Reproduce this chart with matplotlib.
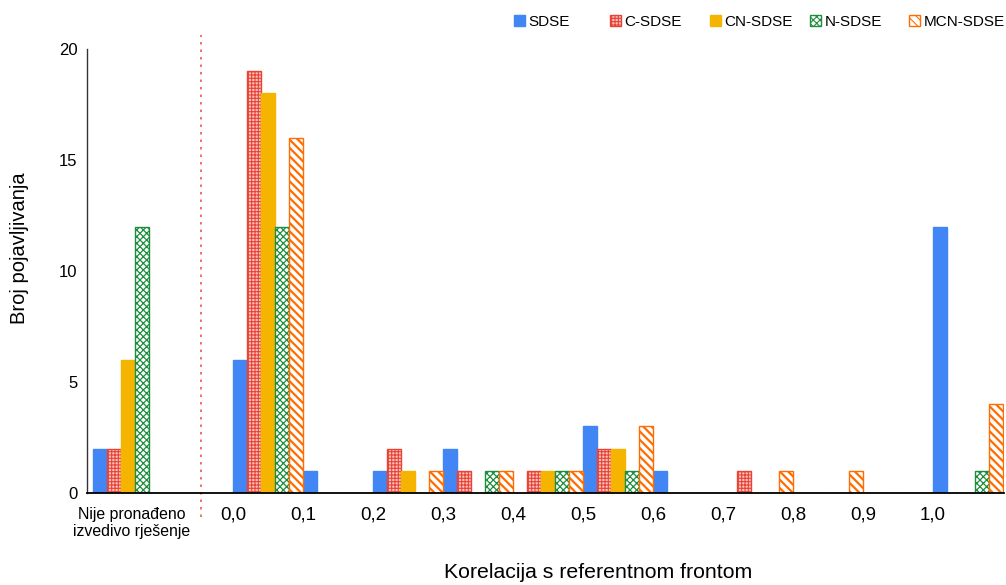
import numpy as np
import matplotlib
matplotlib.use("Agg")
import matplotlib.pyplot as plt

plt.rcParams['font.family'] = ['Liberation Sans', 'DejaVu Sans']
plt.rcParams['hatch.linewidth'] = 0.8

# ---- data ----
series = ["SDSE", "C-SDSE", "CN-SDSE", "N-SDSE", "MCN-SDSE"]
bin_labels = ["0,0", "0,1", "0,2", "0,3", "0,4", "0,5", "0,6", "0,7", "0,8", "0,9", "1,0"]
nf_label = "Nije pronađeno\nizvedivo rješenje"

# first value = "Nije pronađeno izvedivo rješenje", then bins 0,0 .. 1,0
sdse     = [2, 6, 1, 1, 2, 0, 3, 1, 0, 0, 0, 12]
c_sdse   = [2, 19, 0, 2, 1, 1, 2, 0, 1, 0, 0, 0]
cn_sdse  = [6, 18, 0, 1, 0, 1, 2, 0, 0, 0, 0, 0]
n_sdse   = [12, 12, 0, 0, 1, 1, 1, 0, 0, 0, 0, 1]
mcn_sdse = [0, 16, 0, 1, 1, 1, 3, 0, 1, 1, 0, 4]

values = [sdse, c_sdse, cn_sdse, n_sdse, mcn_sdse]

styles = [
    dict(facecolor="#4285F4", edgecolor="#4285F4", hatch=None),
    dict(facecolor="#F6C3BF", edgecolor="#EA4335", hatch="+++++"),
    dict(facecolor="#F4B400", edgecolor="#F4B400", hatch=None),
    dict(facecolor="white", edgecolor="#1E8E3E", hatch="xxxxx"),
    dict(facecolor="white", edgecolor="#FF6D01", hatch="\\\\\\\\"),
]
hatch_lw = [0.8, 0.8, 0.8, 0.9, 1.6]

fig = plt.figure(figsize=(10.06, 5.85), dpi=100)
ax = fig.add_axes([87/1006, 1-493/585, 917/1006, 444/585])

# group start positions: not-found group, (empty slot), bins
group_starts = np.array([-2] + list(range(len(bin_labels))), dtype=float)
bw = 0.2

handles = []
for i, (name, vals, st) in enumerate(zip(series, values, styles)):
    x = group_starts + (i + 0.5) * bw
    with plt.rc_context({'hatch.linewidth': hatch_lw[i]}):
        bars = ax.bar(x, vals, width=bw, label=name, linewidth=1.0, **st)
    for b in bars:
        if hasattr(b, "set_hatch_linewidth"):
            b.set_hatch_linewidth(hatch_lw[i])
    handles.append(bars)

ax.set_xlim(-2.086, 11.014)
ax.set_ylim(0, 20)
ax.set_yticks([0, 5, 10, 15, 20])
ax.tick_params(axis='y', length=0, pad=7, labelsize=12)

ticks = [-1.45] + list(range(len(bin_labels)))
ax.set_xticks(ticks)
ax.set_xticklabels([nf_label] + bin_labels)
ax.tick_params(axis='x', length=0, pad=10, labelsize=13.5)
lbls = ax.get_xticklabels()
lbls[0].set_fontsize(11.4)
lbls[0].set_linespacing(1.2)

for s in ["top", "right"]:
    ax.spines[s].set_visible(False)
ax.spines["left"].set_color("#333333")
ax.spines["left"].set_linewidth(1.0)
ax.spines["bottom"].set_color("black")
ax.spines["bottom"].set_linewidth(1.3)

# divider between "not found" and bins
divider_x = -0.46
ax.plot([divider_x, divider_x], [-1.1, 20.65], color="#F05A50", lw=1.2,
        linestyle=(0, (1.5, 3)), clip_on=False)

fig.text(20/1006, 1-248/585, "Broj pojavljivanja", rotation=90,
         ha="center", va="center", fontsize=14.5)
fig.text(598/1006, 1-573/585, "Korelacija s referentnom frontom",
         ha="center", va="center", fontsize=15.3)

# legend entries placed individually (top right, one row)
legend_x = [514, 610, 710, 810, 909]
for h, name, lx in zip(handles, series, legend_x):
    lg = fig.legend([h], [name], loc="center left",
                    bbox_to_anchor=(lx/1006, 1-22/585), frameon=False,
                    fontsize=11, handlelength=0.75, handleheight=0.75,
                    handletextpad=0.2, borderaxespad=0, borderpad=0)

fig.savefig("out.png", dpi=100)
